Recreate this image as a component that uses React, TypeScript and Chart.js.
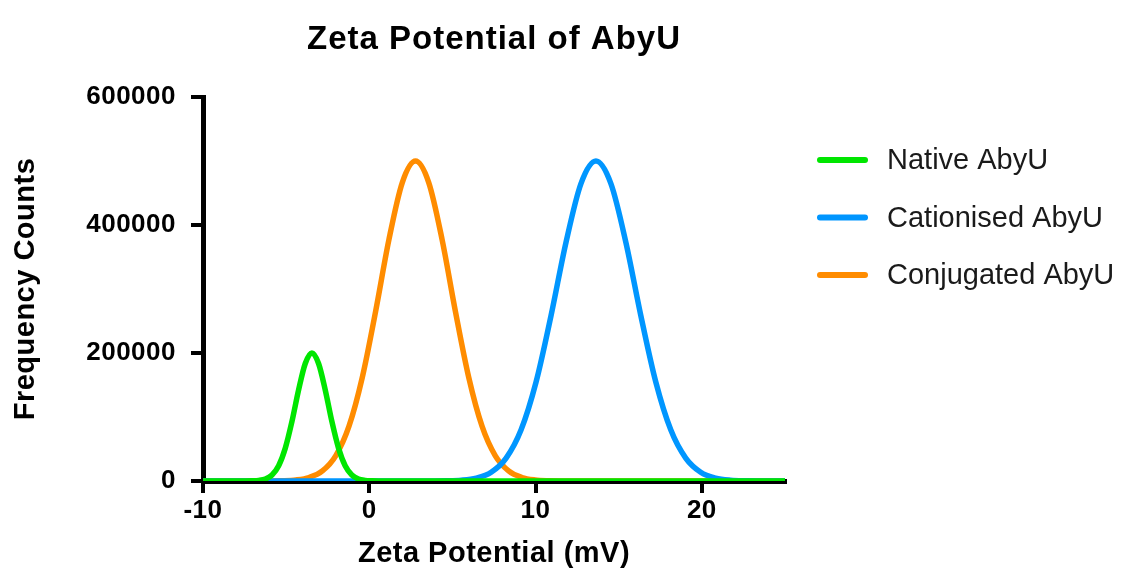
import React, { useEffect, useRef } from "react";
import { Chart, registerables } from "chart.js";

Chart.register(...registerables);

// Text
const chartTitle = "Zeta Potential of AbyU";
const xAxisTitle = "Zeta Potential (mV)";
const yAxisTitle = "Frequency Counts";

// Axis ticks
const xTickValues = [-10, 0, 10, 20];
const yTickValues = [0, 200000, 400000, 600000];
const xMin = -10;
const xMax = 25;
const yMin = 0;
const yMax = 600000;

// Series
const seriesLabels = ["Native AbyU", "Cationised AbyU", "Conjugated AbyU"];
const seriesColors = ["#00E600", "#0096FF", "#FF8C00"];

// Native AbyU distribution (mV, counts)
const nativeX = [-10, -7.45, -7.05, -6.65, -6.25, -5.85, -5.45, -5.05, -4.65, -4.25, -3.85, -3.45, -3.05, -2.65, -2.25, -1.85, -1.45, -1.05, -0.65, -0.25, 0.15, 0.55, 25];
const nativeY = [0, 0, 200, 900, 3100, 9400, 23900, 51400, 93000, 142400, 183600, 200000, 183600, 142400, 93000, 51400, 23900, 9400, 3100, 900, 200, 0, 0];

// Cationised AbyU distribution
const cationisedX = [-10, 2.83, 3.73, 4.63, 5.53, 6.43, 7.33, 8.23, 9.13, 10.03, 10.93, 11.83, 12.73, 13.63, 14.53, 15.43, 16.33, 17.23, 18.13, 19.03, 19.93, 20.83, 21.73, 22.63, 23.53, 24.43, 25];
const cationisedY = [0, 0, 70, 330, 1300, 4600, 13700, 35700, 79900, 154600, 258400, 372900, 464700, 500000, 464700, 372900, 258400, 154600, 79900, 35700, 13700, 4600, 1300, 330, 70, 0, 0];

// Conjugated AbyU distribution
const conjugatedX = [-10, -6.82, -6.02, -5.22, -4.42, -3.62, -2.82, -2.02, -1.22, -0.42, 0.38, 1.18, 1.98, 2.78, 3.58, 4.38, 5.18, 5.98, 6.78, 7.58, 8.38, 9.18, 9.98, 10.78, 11.58, 12.38, 25];
const conjugatedY = [0, 0, 100, 430, 1650, 5500, 15800, 39400, 85700, 162000, 265000, 377000, 466000, 500000, 466000, 377000, 265000, 162000, 85700, 39400, 15800, 5500, 1650, 430, 100, 0, 0];

const seriesX = [nativeX, cationisedX, conjugatedX];
const seriesY = [nativeY, cationisedY, conjugatedY];

const FONT = '"Liberation Sans", Arial, Helvetica, sans-serif';
const CANVAS_W = 1112;
const CANVAS_H = 600;

// Slightly widened lettering for every Chart.js-drawn text
const spacingPlugin = {
  id: "letterSpacing",
  beforeLayout(chart: any) {
    chart.ctx.letterSpacing = "0.5px";
  },
  beforeDraw(chart: any) {
    chart.ctx.letterSpacing = "0.5px";
  },
};

// Title centred over the plotting area
const titlePlugin = {
  id: "plotTitle",
  afterDraw(chart: any) {
    const { ctx, chartArea } = chart;
    ctx.save();
    ctx.letterSpacing = "1px";
    ctx.font = `bold 33px ${FONT}`;
    ctx.fillStyle = "#000";
    ctx.textAlign = "center";
    ctx.textBaseline = "middle";
    ctx.fillText(chartTitle, (chartArea.left + chartArea.right) / 2, chartArea.top - 57);
    ctx.restore();
  },
};

// Legend to the right of the plot
const legendPlugin = {
  id: "sideLegend",
  afterDraw(chart: any) {
    const { ctx, chartArea } = chart;
    const x0 = chartArea.right + 35;
    const x1 = x0 + 45;
    const tx = x1 + 22;
    ctx.save();
    ctx.letterSpacing = "0px";
    chart.data.datasets.forEach((ds: any, i: number) => {
      const y = chartArea.top + 63 + i * 57.5;
      ctx.beginPath();
      ctx.strokeStyle = ds.borderColor;
      ctx.lineWidth = 6;
      ctx.lineCap = "round";
      ctx.moveTo(x0, y);
      ctx.lineTo(x1, y);
      ctx.stroke();
      ctx.font = `29px ${FONT}`;
      ctx.fillStyle = "#1a1a1a";
      ctx.textAlign = "left";
      ctx.textBaseline = "middle";
      ctx.fillText(ds.label, tx, y + 1);
    });
    ctx.restore();
  },
};

export default function App() {
  const canvasRef = useRef<HTMLCanvasElement | null>(null);

  useEffect(() => {
    document.documentElement.style.overflow = "hidden";
    document.body.style.overflow = "hidden";
    const canvas = canvasRef.current;
    if (!canvas) return;

    const datasets = seriesLabels.map((label, i) => ({
      label,
      data: seriesX[i].map((x, j) => ({ x, y: seriesY[i][j] })),
      borderColor: seriesColors[i],
      backgroundColor: seriesColors[i],
      borderWidth: 5.5,
      pointRadius: 0,
      fill: false,
      cubicInterpolationMode: "monotone" as const,
    }));

    const tickFont = { family: FONT, size: 26, weight: "bold" as const };
    const titleFont = { family: FONT, size: 29, weight: "bold" as const };

    const chart = new Chart(canvas, {
      type: "line",
      data: { datasets },
      options: {
        animation: false,
        responsive: false,
        devicePixelRatio: 1,
        layout: { padding: { left: 0, top: 89, right: 335, bottom: 37 } },
        plugins: {
          legend: { display: false },
          title: { display: false },
          tooltip: { enabled: false },
        },
        elements: { point: { radius: 0 } },
        scales: {
          x: {
            type: "linear",
            min: xMin,
            max: xMax,
            afterFit: (s: any) => {
              s.height = 90;
            },
            afterBuildTicks: (s: any) => {
              s.ticks = xTickValues.map((v) => ({ value: v }));
            },
            grid: {
              display: true,
              drawOnChartArea: false,
              drawTicks: true,
              tickLength: 12,
              lineWidth: 4,
              tickWidth: 4,
              color: "#000",
              tickColor: "#000",
            },
            border: { display: true, color: "#000", width: 5 },
            ticks: {
              color: "#000",
              font: tickFont,
              padding: 2,
              maxRotation: 0,
              autoSkip: false,
              callback: (v: any) => String(v),
            },
            title: {
              display: true,
              text: xAxisTitle,
              color: "#000",
              font: titleFont,
              padding: { top: 0, bottom: 0 },
            },
          },
          y: {
            type: "linear",
            min: yMin,
            max: yMax,
            afterFit: (s: any) => {
              s.width = 195;
            },
            afterBuildTicks: (s: any) => {
              s.ticks = yTickValues.map((v) => ({ value: v }));
            },
            grid: {
              display: true,
              drawOnChartArea: false,
              drawTicks: true,
              tickLength: 12,
              lineWidth: 4,
              tickWidth: 4,
              color: "#000",
              tickColor: "#000",
            },
            border: { display: true, color: "#000", width: 5 },
            ticks: {
              color: "#000",
              font: tickFont,
              padding: 15,
              autoSkip: false,
              callback: (v: any) => String(v),
            },
            title: {
              display: true,
              text: yAxisTitle,
              color: "#000",
              font: titleFont,
              padding: { top: 1, bottom: 0 },
            },
          },
        },
      },
      plugins: [spacingPlugin, titlePlugin, legendPlugin],
    });

    return () => {
      chart.destroy();
    };
  }, []);

  return (
    <div style={{ width: CANVAS_W, height: CANVAS_H }}>
      <canvas ref={canvasRef} width={CANVAS_W} height={CANVAS_H} style={{ display: "block" }} />
    </div>
  );
}
